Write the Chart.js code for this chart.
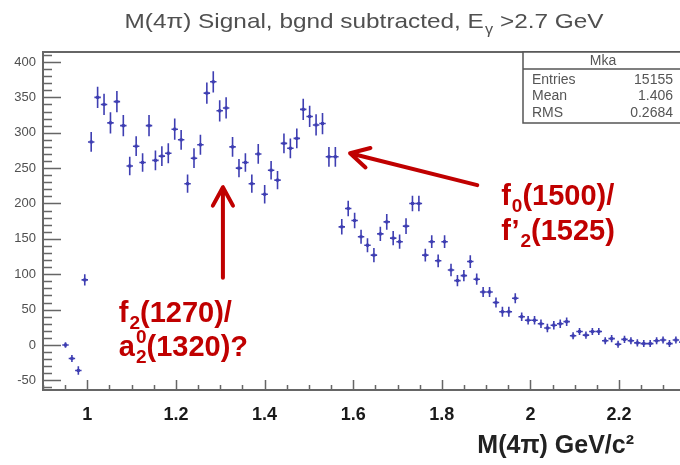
<!DOCTYPE html>
<html>
<head>
<meta charset="utf-8">
<script src="https://cdn.jsdelivr.net/npm/chart.js@4.4.1/dist/chart.umd.min.js"></script>
<style>
  body { margin: 0; background: #fff; }
  #wrap { width: 680px; height: 465px; }
</style>
</head>
<body>
<div id="wrap"><canvas id="myChart" width="680" height="465"></canvas></div>
<script>
// M(4pi) histogram: 100 bins between 0.9 and 2.35 GeV
const massLow = 0.9;
const massHigh = 2.35;
const nBins = 100;

const counts = [
  null, null, null, 0, -19, -36, 92, 287, 350, 340,
  314, 344, 310, 253, 281, 258, 310, 261, 267, 271,
  305, 290, 228, 264, 283, 356, 372, 331, 335, 280,
  250, 258, 228, 270, 213, 247, 233, 285, 278, 292,
  333, 323, 311, 313, 266, 266, 167, 193, 176, 153,
  141, 127, 157, 174, 151, 146, 168, 200, 200, 127,
  146, 119, 146, 106, 91, 98, 118, 93, 75, 75,
  60, 47, 47, 66, 40, 35, 35, 30, 24, 28,
  30, 33, 13, 19, 14, 19, 19, 6, 9, 1,
  8, 6, 3, 2, 2, 6, 7, 2, 7, 4
];

const errors = [
  0, 0, 0, 4, 5, 6, 8, 14, 15, 15,
  15, 15, 15, 13, 14, 13, 15, 14, 14, 14,
  15, 14, 13, 14, 14, 15, 15, 15, 15, 14,
  13, 13, 13, 14, 13, 13, 13, 14, 14, 14,
  15, 15, 15, 15, 14, 14, 11, 11, 11, 10,
  10, 10, 10, 11, 10, 10, 11, 11, 11, 9,
  9, 9, 9, 9, 8, 8, 9, 8, 7, 7,
  7, 7, 7, 7, 6, 6, 6, 6, 6, 6,
  6, 6, 5, 5, 5, 5, 5, 5, 5, 5,
  5, 5, 5, 5, 5, 5, 5, 5, 5, 5
];

const xTicks = [1, 1.2, 1.4, 1.6, 1.8, 2, 2.2];
const yTicks = [-50, 0, 50, 100, 150, 200, 250, 300, 350, 400];

const statsName = 'Mka';
const statsLabels = ['Entries', 'Mean', 'RMS'];
const statsValues = ['15155', '1.406', '0.2684'];

const binWidth = (massHigh - massLow) / nBins;
const points = [];
counts.forEach(function (c, i) {
    if (c === null) return;
    points.push({ x: massLow + binWidth * (i + 0.5), y: c, err: errors[i] });
});

const FONT = '"Liberation Sans", Arial, sans-serif';
const RED = '#c00000';
const BLUE = 'rgb(62,62,178)';

// arrows and labels, in data coordinates
const arrows = [
    { from: [1.306, 95], to: [1.306, 223] },
    { from: [1.880, 226], to: [1.593, 271] }
];
const notes = [
    { at: [1.071, 33], parts: [['f'], ['2', 'sub'], ['(1270)/']] },
    { at: [1.071, -15], parts: [['a'], ['0', 'supstack'], ['2', 'sub'], ['(1320)?']] },
    { at: [1.934, 198], parts: [['f'], ['0', 'sub'], ['(1500)/']] },
    { at: [1.934, 148], parts: [['f\u2019'], ['2', 'sub'], ['(1525)']] }
];

function richText(ctx, x, y, parts, big, small, subDy, supDy) {
    let cx = x;
    parts.forEach(function (p) {
        let kind = p[1];
        if (!kind) {
            ctx.font = big;
            ctx.fillText(p[0], cx, y);
            cx += ctx.measureText(p[0]).width;
        } else {
            ctx.font = small;
            let dy = kind === 'sub' ? subDy : supDy;
            ctx.fillText(p[0], cx + 1, y + dy);
            if (kind !== 'supstack') cx += ctx.measureText(p[0]).width + 1;
        }
    });
    return cx - x;
}

function drawArrow(ctx, x1, y1, x2, y2) {
    let a = Math.atan2(y2 - y1, x2 - x1);
    let len = 21, spread = 0.5;
    ctx.beginPath();
    ctx.moveTo(x1, y1);
    ctx.lineTo(x2, y2);
    ctx.moveTo(x2 - len * Math.cos(a - spread), y2 - len * Math.sin(a - spread));
    ctx.lineTo(x2, y2);
    ctx.lineTo(x2 - len * Math.cos(a + spread), y2 - len * Math.sin(a + spread));
    ctx.stroke();
}

const histoPlugin = {
    id: 'histo',
    afterDatasetsDraw: function (chart) {
        let ctx = chart.ctx;
        let xs = chart.scales.x, ys = chart.scales.y;
        let area = chart.chartArea;

        // error bars
        ctx.save();
        ctx.beginPath();
        ctx.rect(area.left, area.top, area.right - area.left, area.bottom - area.top);
        ctx.clip();
        ctx.strokeStyle = BLUE;
        ctx.fillStyle = BLUE;
        ctx.lineWidth = 1.6;
        points.forEach(function (p) {
            let px = xs.getPixelForValue(p.x);
            let py = ys.getPixelForValue(p.y);
            let xl = xs.getPixelForValue(p.x - binWidth / 2);
            let xr = xs.getPixelForValue(p.x + binWidth / 2);
            let yt = ys.getPixelForValue(p.y + p.err);
            let yb = ys.getPixelForValue(p.y - p.err);
            ctx.beginPath();
            ctx.moveTo(xl, py); ctx.lineTo(xr, py);
            ctx.moveTo(px, yt); ctx.lineTo(px, yb);
            ctx.stroke();
            ctx.fillRect(px - 1.5, py - 1.5, 3, 3);
        });
        ctx.restore();

        // frame and tick marks
        ctx.save();
        ctx.strokeStyle = '#666';
        ctx.lineWidth = 2;
        ctx.beginPath();
        ctx.moveTo(area.left, area.top); ctx.lineTo(area.right, area.top);
        ctx.stroke();
        ctx.lineWidth = 1.5;
        ctx.beginPath();
        for (let v = -60; v <= 410; v += 10) {
            let y = Math.round(ys.getPixelForValue(v)) + 0.5;
            let len = v % 50 === 0 ? 18 : 9;
            ctx.moveTo(area.left, y); ctx.lineTo(area.left + len, y);
        }
        for (let j = 18; j <= 47; j++) {
            let x = Math.round(xs.getPixelForValue(j * 0.05)) + 0.5;
            let len = j % 4 === 0 ? 10 : 5;
            ctx.moveTo(x, area.bottom); ctx.lineTo(x, area.bottom - len);
        }
        ctx.stroke();
        ctx.restore();

        // stats box
        ctx.save();
        let bx = 523, bt = area.top, bb = 123;
        ctx.fillStyle = '#fff';
        ctx.fillRect(bx, bt, chart.width - bx, bb - bt);
        ctx.strokeStyle = '#555';
        ctx.lineWidth = 1.5;
        ctx.beginPath();
        ctx.moveTo(chart.width, bt); ctx.lineTo(bx, bt); ctx.lineTo(bx, bb); ctx.lineTo(chart.width, bb);
        ctx.moveTo(bx, 69); ctx.lineTo(chart.width, 69);
        ctx.stroke();
        ctx.fillStyle = '#555';
        ctx.font = '14px ' + FONT;
        ctx.textBaseline = 'middle';
        ctx.textAlign = 'center';
        ctx.fillText(statsName, 603, 61);
        statsLabels.forEach(function (lab, i) {
            let y = 80 + i * 16.5;
            ctx.textAlign = 'left';
            ctx.fillText(lab, 532, y);
            ctx.textAlign = 'right';
            ctx.fillText(statsValues[i], 673, y);
        });
        ctx.restore();

        // arrows and labels
        ctx.save();
        ctx.strokeStyle = RED;
        ctx.fillStyle = RED;
        ctx.lineWidth = 4;
        ctx.lineCap = 'round';
        ctx.lineJoin = 'round';
        arrows.forEach(function (a) {
            drawArrow(ctx,
                xs.getPixelForValue(a.from[0]), ys.getPixelForValue(a.from[1]),
                xs.getPixelForValue(a.to[0]), ys.getPixelForValue(a.to[1]));
        });
        ctx.textBaseline = 'alphabetic';
        ctx.textAlign = 'left';
        notes.forEach(function (n) {
            richText(ctx, xs.getPixelForValue(n.at[0]), ys.getPixelForValue(n.at[1]), n.parts,
                'bold 29px ' + FONT, 'bold 19px ' + FONT, 7, -13);
        });
        ctx.restore();

        // histogram title (slightly widened) and x axis title
        ctx.save();
        ctx.fillStyle = '#505050';
        ctx.textBaseline = 'alphabetic';
        ctx.textAlign = 'left';
        let tParts = [['M(4\u03c0) Signal, bgnd subtracted, E'], ['\u03b3', 'sub'], [' >2.7 GeV']];
        let tBig = '21px ' + FONT, tSmall = '14px ' + FONT, stretch = 1.16;
        ctx.globalAlpha = 0;
        let tw = richText(ctx, 0, 0, tParts, tBig, tSmall, 6, -8) * stretch;
        ctx.globalAlpha = 1;
        ctx.translate(364 - tw / 2, 28);
        ctx.scale(stretch, 1);
        richText(ctx, 0, 0, tParts, tBig, tSmall, 6, -8);
        ctx.restore();

        ctx.save();
        ctx.fillStyle = '#222';
        ctx.textAlign = 'right';
        ctx.font = 'bold 25px ' + FONT;
        ctx.fillText('M(4\u03c0) GeV/c\u00b2', 634, 453);
        ctx.restore();
    }
};

let ctx = document.getElementById('myChart').getContext('2d');
var myChart = new Chart(ctx, {
    type: 'scatter',
    data: {
        datasets: [{
            data: points,
            pointRadius: 0,
            showLine: false
        }]
    },
    options: {
        responsive: false,
        animation: false,
        events: [],
        layout: { padding: { top: 52, right: 0, bottom: 0, left: 0 } },
        plugins: {
            legend: { display: false },
            tooltip: { enabled: false }
        },
        scales: {
            x: {
                type: 'linear',
                min: massLow,
                max: 2.3375,
                grid: { display: false, drawTicks: false },
                border: { display: true, color: '#666', width: 2 },
                afterBuildTicks: function (scale) {
                    scale.ticks = xTicks.map(function (v) { return { value: v }; });
                },
                afterFit: function (scale) { scale.height = 75; },
                ticks: {
                    padding: 14,
                    color: '#1a1a1a',
                    font: { family: FONT, size: 18, weight: 'bold' },
                    maxRotation: 0,
                    callback: function (v) { return String(v); }
                }
            },
            y: {
                type: 'linear',
                min: -63.6,
                max: 414.1,
                grid: { display: false, drawTicks: false },
                border: { display: true, color: '#666', width: 2 },
                afterBuildTicks: function (scale) {
                    scale.ticks = yTicks.map(function (v) { return { value: v }; });
                },
                afterFit: function (scale) { scale.width = 43; },
                ticks: {
                    padding: 7,
                    color: '#505050',
                    font: { family: FONT, size: 13 },
                    callback: function (v) { return String(v); }
                }
            }
        }
    },
    plugins: [histoPlugin]
});
</script>
</body>
</html>
